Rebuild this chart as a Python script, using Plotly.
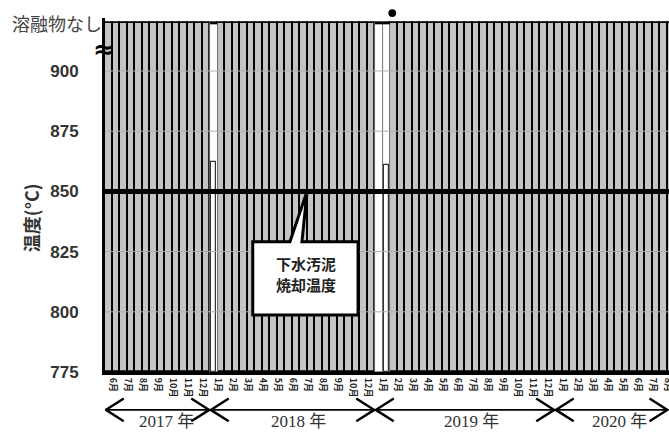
import plotly.graph_objects as go

# ---------------- data ----------------
Y_MIN = 775
TOP = 920          # level used for "溶融物なし"
N = "なし"         # no melt observed

y_ticks = [775, 800, 825, 850, 875, 900]
top_label = "溶融物なし"
ref_temp = 850
ref_lines = ["下水汚泥", "焼却温度"]
y_title = "温度(°C)"

years = ["2017 年", "2018 年", "2019 年", "2020 年"]
months_2017 = ["6月", "7月", "8月", "9月", "10月", "11月", "12月"]
months_2018 = ["1月", "2月", "3月", "4月", "5月", "6月", "7月", "8月", "9月", "10月", "12月"]
months_2019 = ["1月", "2月", "3月", "4月", "5月", "6月", "7月", "8月", "9月", "10月", "11月", "12月"]
months_2020 = ["1月", "2月", "3月", "4月", "5月", "6月", "7月", "8月"]

# two readings per month: N = 溶融物なし, number = melt temperature, None = blank
vals_2017 = [[N, N], [N, N], [N, N], [N, N], [N, N], [N, N], [N, N]]
vals_2018 = [[862, N], [N, N], [N, N], [N, N], [N, N], [N, N],
             [N, N], [N, N], [N, N], [N, N], [N, N]]
vals_2019 = [[None, 861], [N, N], [N, N], [N, N], [N, N], [N, N],
             [N, N], [N, N], [N, N], [N, N], [N, N], [N, N]]
vals_2020 = [[N, N], [N, N], [N, N], [N, N], [N, N], [N, N],
             [N, N], [N, N]]

# ---------------- build ----------------
month_labels = months_2017 + months_2018 + months_2019 + months_2020
month_vals = vals_2017 + vals_2018 + vals_2019 + vals_2020
year_sizes = [len(months_2017), len(months_2018), len(months_2019), len(months_2020)]
SLOTS = 2
slot_w = 1.0 / SLOTS

gray_x, white_x, melt_x, melt_y = [], [], [], []
for i, trip in enumerate(month_vals):
    for j, v in enumerate(trip):
        xc = i - 0.5 + (j + 0.5) * slot_w
        if v == N:
            gray_x.append(xc)
        else:
            white_x.append(xc)
            if v is not None:
                melt_x.append(xc)
                melt_y.append(v)

fig = go.Figure()
fig.add_trace(go.Bar(x=gray_x, y=[TOP - Y_MIN] * len(gray_x), base=Y_MIN, width=slot_w,
                     marker=dict(color="#c4c4c4", line=dict(color="black", width=1.8)),
                     showlegend=False, hoverinfo="skip"))
fig.add_trace(go.Bar(x=white_x, y=[TOP - Y_MIN] * len(white_x), base=Y_MIN, width=slot_w,
                     marker=dict(color="white", line=dict(color="#666", width=0.8)),
                     showlegend=False, hoverinfo="skip"))
fig.add_trace(go.Bar(x=melt_x, y=[v - Y_MIN for v in melt_y], base=Y_MIN, width=slot_w * 0.65,
                     marker=dict(color="white", line=dict(color="#333", width=1.2)),
                     showlegend=False, hoverinfo="skip"))

shapes = []
# gridlines drawn above bars (light gray, like reference)
for t in y_ticks:
    if t in (Y_MIN, ref_temp):
        continue
    shapes.append(dict(type="line", xref="paper", yref="y", x0=0, x1=1, y0=t, y1=t,
                       line=dict(color="#b0b0b0", width=1), layer="above"))
# thick top over non-"なし" slots
for xc in white_x:
    shapes.append(dict(type="line", xref="x", yref="y", x0=xc - slot_w / 2, x1=xc + slot_w / 2,
                       y0=TOP, y1=TOP, line=dict(color="black", width=3), layer="above"))
# reference line
shapes.append(dict(type="line", xref="paper", yref="y", x0=0, x1=1, y0=ref_temp, y1=ref_temp,
                   line=dict(color="black", width=5), layer="above"))
# callout box with pointer
bx0, bx1, by0, by1 = 9.35, 16.37, 798.7, 829.1
px0, px1, tipx = 11.83, 12.63, 12.97
path = (f"M {bx0},{by1} L {px0},{by1} L {tipx},{ref_temp} L {px1},{by1} L {bx1},{by1} "
        f"L {bx1},{by0} L {bx0},{by0} Z")
shapes.append(dict(type="path", xref="x", yref="y", path=path, fillcolor="white",
                   line=dict(color="black", width=3), layer="above"))

# dot above the 2019 melt slot
dot_x = melt_x[-1] + slot_w / 2 + 0.15
shapes.append(dict(type="circle", xref="x", yref="paper", x0=dot_x - 0.26, x1=dot_x + 0.26,
                   y0=1.003, y1=1.025, fillcolor="black", line=dict(color="black", width=0)))

# year brackets
ay = -0.107
ah_dx = 1.2
ah_dy = 0.032
starts = [sum(year_sizes[:k]) - 0.5 for k in range(len(year_sizes))]
ends = [s + n for s, n in zip(starts, year_sizes)]
ends[-1] = 37.05
for k, (s, e) in enumerate(zip(starts, ends)):
    s2 = s + 0.05
    e2 = e - 0.05
    shapes.append(dict(type="line", xref="x", yref="paper", x0=s2, x1=e2, y0=ay, y1=ay,
                       line=dict(color="black", width=1.8)))
    shapes.append(dict(type="path", xref="x", yref="paper",
                       path=f"M {s2 + ah_dx},{ay + ah_dy} L {s2},{ay} L {s2 + ah_dx},{ay - ah_dy}",
                       line=dict(color="black", width=2.4)))
    shapes.append(dict(type="path", xref="x", yref="paper",
                       path=f"M {e2 - ah_dx},{ay + ah_dy} L {e2},{ay} L {e2 - ah_dx},{ay - ah_dy}",
                       line=dict(color="black", width=2.4)))

annotations = []
year_text_x = [3.6, 12.4, 23.9, 33.8]
for yt, xt in zip(years, year_text_x):
    annotations.append(dict(x=xt, y=-0.141, xref="x", yref="paper", text=yt, showarrow=False,
                            font=dict(family="Liberation Serif, Noto Sans CJK JP", size=17, color="#333"),
                            xanchor="center", yanchor="middle"))
for txt, yv in zip(ref_lines, [820.0, 811.3]):
    annotations.append(dict(x=12.9, y=yv, xref="x", yref="y", text=txt, showarrow=False,
                            font=dict(family="Noto Sans CJK JP", size=15, color="#222", weight="bold"),
                            xanchor="center", yanchor="middle"))
annotations.append(dict(x=-0.002, y=0.987, xref="paper", yref="paper", text=top_label, showarrow=False,
                        font=dict(family="Noto Sans CJK JP", size=18, color="#444"),
                        xanchor="right", yanchor="middle"))
annotations.append(dict(x=-0.002, y=0.912, xref="paper", yref="paper", text="≈", showarrow=False,
                        font=dict(family="DejaVu Sans", size=26, color="black", weight="bold"),
                        xanchor="center", yanchor="middle"))
annotations.append(dict(x=-0.131, y=0.435, xref="paper", yref="paper", text=y_title, showarrow=False,
                        textangle=-90,
                        font=dict(family="Noto Sans CJK JP", size=18, color="#333", weight="bold"),
                        xanchor="center", yanchor="middle"))

fig.update_layout(
    width=669, height=432,
    margin=dict(l=105, r=0, t=18, b=60, autoexpand=False),
    paper_bgcolor="white", plot_bgcolor="white",
    barmode="overlay", bargap=0,
    shapes=shapes, annotations=annotations,
    xaxis=dict(range=[-0.5, 37.1], tickmode="array", tickvals=list(range(len(month_labels))),
               ticktext=month_labels, tickangle=90, showgrid=False, zeroline=False,
               showline=True, linecolor="black", linewidth=3, ticks="", automargin=False,
               tickfont=dict(family="Noto Sans CJK JP", size=9, color="#222", weight="bold"),
               ticklabelstandoff=1, ticklabeloverflow="allow"),
    yaxis=dict(range=[Y_MIN, TOP + 2], tickmode="array", tickvals=y_ticks,
               ticktext=[str(t) for t in y_ticks], showgrid=False, zeroline=False,
               showline=True, linecolor="black", linewidth=3, ticks="", automargin=False,
               tickfont=dict(family="Liberation Sans", size=17, color="#333", weight="bold"),
               ticklabelstandoff=20),
)

fig.write_html("out.html")
